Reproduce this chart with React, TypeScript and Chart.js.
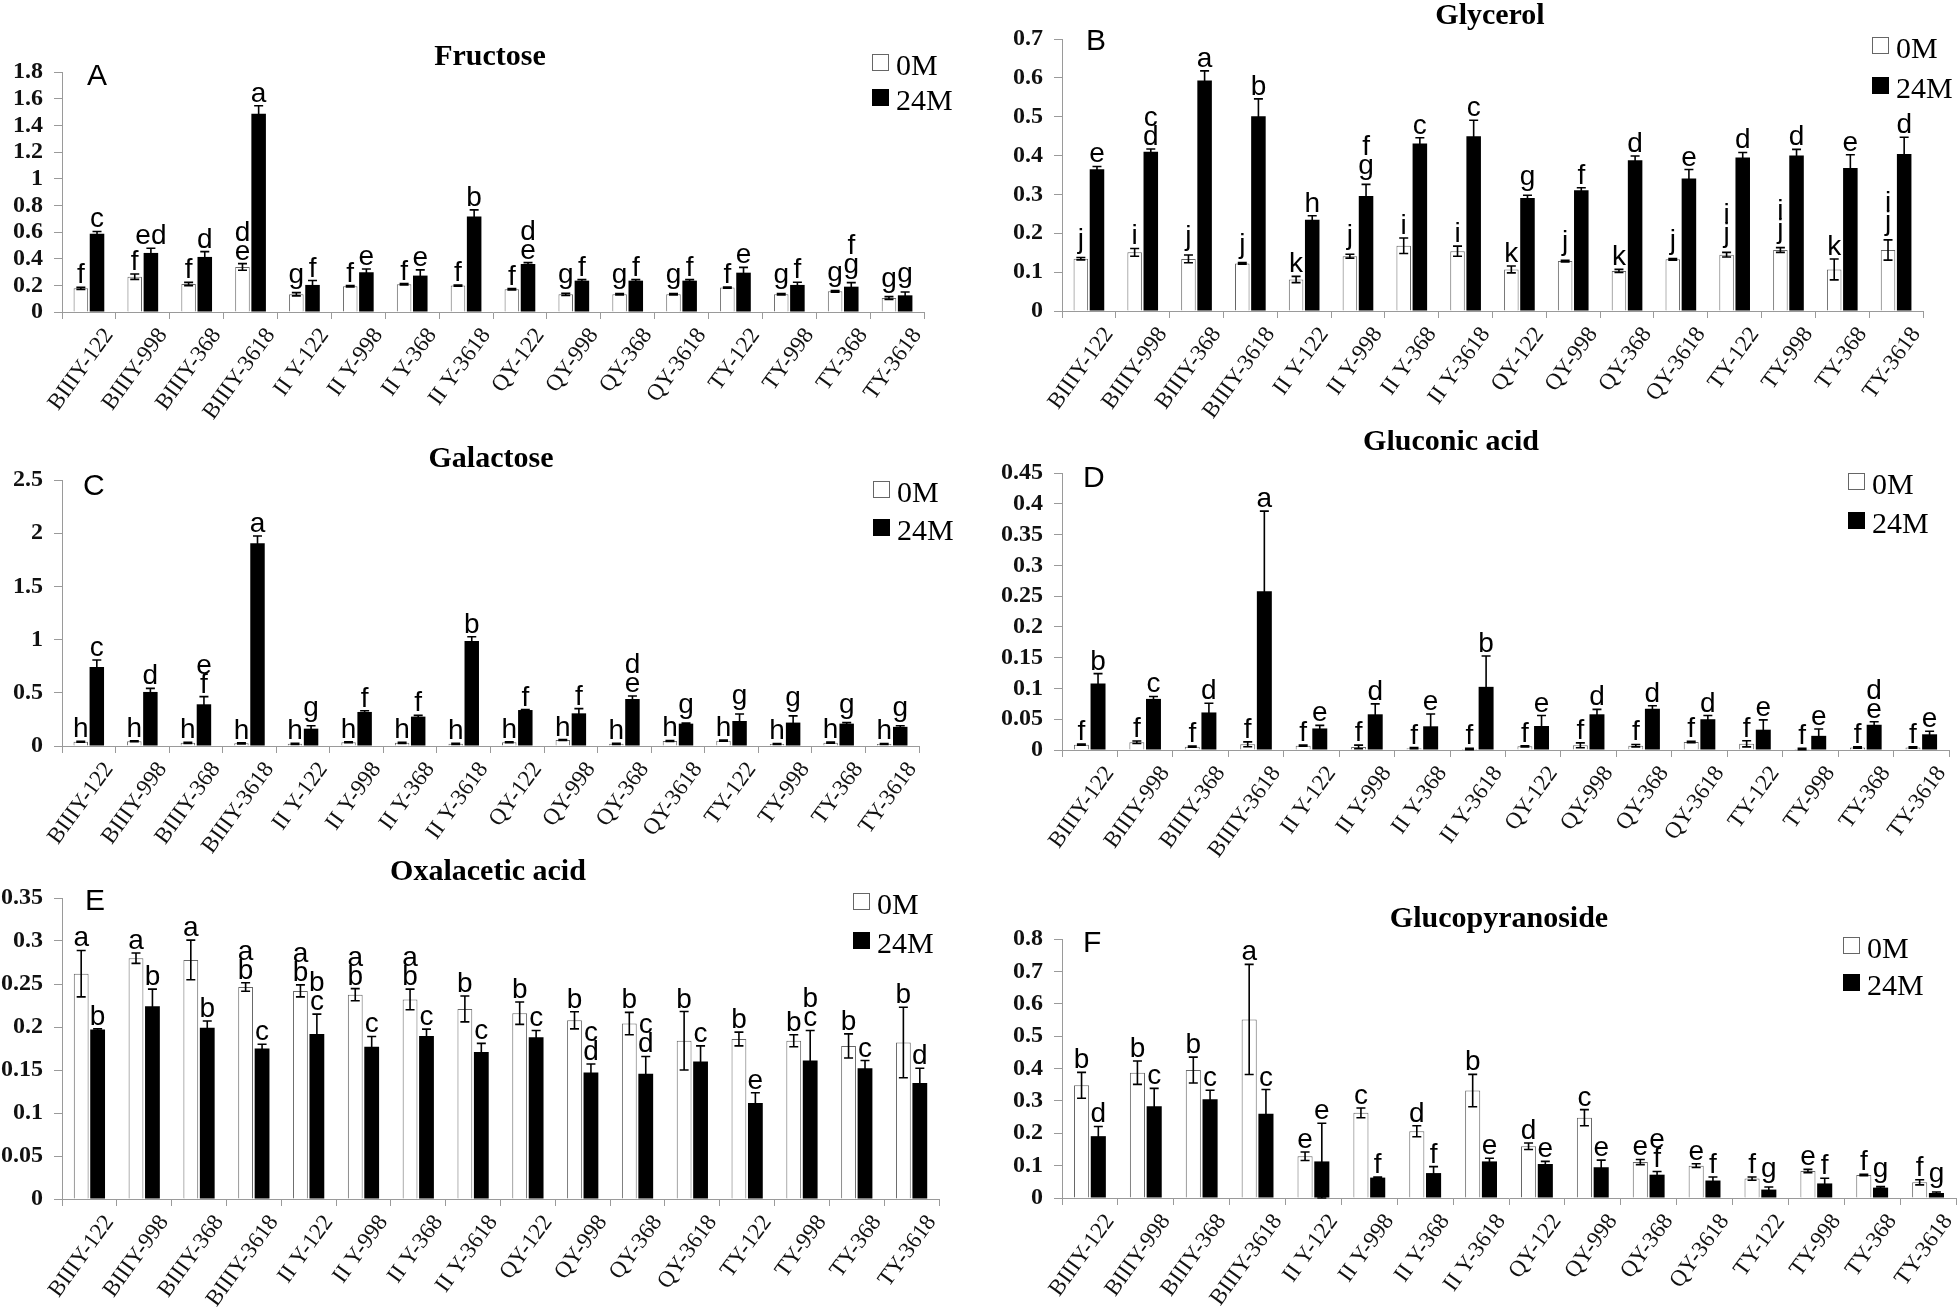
import React, { useEffect, useRef } from 'react';
import { Chart, registerables } from 'chart.js';

Chart.register(...registerables);

const categories = [
  'BIIIY-122', 'BIIIY-998', 'BIIIY-368', 'BIIIY-3618',
  'II Y-122', 'II Y-998', 'II Y-368', 'II Y-3618',
  'QY-122', 'QY-998', 'QY-368', 'QY-3618',
  'TY-122', 'TY-998', 'TY-368', 'TY-3618',
];
const seriesNames = ['0M', '24M'];

// A: Fructose
const fructose0M = [0.178, 0.265, 0.21, 0.338, 0.133, 0.193, 0.208, 0.198, 0.17, 0.133, 0.133, 0.133, 0.183, 0.133, 0.155, 0.105];
const fructose0MErr = [0.008, 0.02, 0.012, 0.025, 0.012, 0.005, 0.005, 0.005, 0.005, 0.008, 0.006, 0.006, 0.005, 0.006, 0.006, 0.01];
const fructose24M = [0.586, 0.443, 0.413, 1.487, 0.203, 0.298, 0.273, 0.716, 0.36, 0.235, 0.235, 0.235, 0.295, 0.203, 0.19, 0.125];
const fructose24MErr = [0.018, 0.035, 0.04, 0.06, 0.033, 0.025, 0.043, 0.05, 0.01, 0.008, 0.008, 0.008, 0.04, 0.02, 0.03, 0.025];
const fructoseLetters0M = ['f', 'f', 'f', 'd/e', 'g', 'f', 'f', 'f', 'f', 'g', 'g', 'g', 'f', 'g', 'g', 'g'];
const fructoseLetters24M = ['c', 'ed', 'd', 'a', 'f', 'e', 'e', 'b', 'd/e', 'f', 'f', 'f', 'e', 'f', 'f/g', 'g'];

// B: Glycerol
const glycerol0M = [0.1345, 0.151, 0.134, 0.1225, 0.081, 0.141, 0.168, 0.154, 0.107, 0.1285, 0.103, 0.133, 0.145, 0.157, 0.107, 0.157];
const glycerol0MErr = [0.003, 0.01, 0.01, 0.002, 0.008, 0.005, 0.02, 0.013, 0.009, 0.002, 0.004, 0.002, 0.006, 0.006, 0.027, 0.026];
const glycerol24M = [0.365, 0.41, 0.593, 0.501, 0.235, 0.296, 0.431, 0.45, 0.291, 0.311, 0.388, 0.341, 0.395, 0.4, 0.368, 0.404];
const glycerol24MErr = [0.007, 0.007, 0.025, 0.045, 0.01, 0.03, 0.015, 0.041, 0.007, 0.006, 0.011, 0.023, 0.013, 0.016, 0.034, 0.043];
const glycerolLetters0M = ['j', 'i', 'j', 'j', 'k', 'j', 'i', 'i', 'k', 'j', 'k', 'j', 'i/j', 'i/j', 'k', 'i/j'];
const glycerolLetters24M = ['e', 'c/d', 'a', 'b', 'h', 'f/g', 'c', 'c', 'g', 'f', 'd', 'e', 'd', 'd', 'e', 'd'];

// C: Galactose
const galactose0M = [0.04, 0.045, 0.03, 0.025, 0.02, 0.035, 0.03, 0.02, 0.035, 0.056, 0.02, 0.047, 0.05, 0.019, 0.031, 0.019];
const galactose0MErr = [0.005, 0.005, 0.005, 0.005, 0.005, 0.005, 0.005, 0.005, 0.005, 0.005, 0.005, 0.005, 0.005, 0.005, 0.005, 0.005];
const galactose24M = [0.742, 0.508, 0.392, 1.905, 0.163, 0.32, 0.276, 0.987, 0.338, 0.307, 0.442, 0.21, 0.235, 0.22, 0.21, 0.18];
const galactose24MErr = [0.066, 0.034, 0.072, 0.069, 0.028, 0.012, 0.012, 0.04, 0.005, 0.044, 0.028, 0.005, 0.066, 0.063, 0.01, 0.01];
const galactoseLetters0M = ['h', 'h', 'h', 'h', 'h', 'h', 'h', 'h', 'h', 'h', 'h', 'h', 'h', 'h', 'h', 'h'];
const galactoseLetters24M = ['c', 'd', 'e/f', 'a', 'g', 'f', 'f', 'b', 'f', 'f', 'd/e', 'g', 'g', 'g', 'g', 'g'];

// D: Gluconic acid
const gluconic0M = [0.0087, 0.0125, 0.0054, 0.0092, 0.007, 0.005, 0.003, 0.0016, 0.006, 0.0076, 0.007, 0.013, 0.01, 0.0016, 0.004, 0.004];
const gluconic0MErr = [0.001, 0.002, 0.001, 0.004, 0.001, 0.003, 0.001, 0.001, 0.001, 0.004, 0.002, 0.001, 0.005, 0.001, 0.001, 0.001];
const gluconic24M = [0.108, 0.083, 0.061, 0.258, 0.035, 0.058, 0.0385, 0.1026, 0.039, 0.058, 0.067, 0.05, 0.033, 0.023, 0.041, 0.0255];
const gluconic24MErr = [0.016, 0.004, 0.015, 0.13, 0.005, 0.017, 0.02, 0.05, 0.017, 0.008, 0.005, 0.006, 0.016, 0.011, 0.005, 0.005];
const gluconicLetters0M = ['f', 'f', 'f', 'f', 'f', 'f', 'f', 'f', 'f', 'f', 'f', 'f', 'f', 'f', 'f', 'f'];
const gluconicLetters24M = ['b', 'c', 'd', 'a', 'e', 'd', 'e', 'b', 'e', 'd', 'd', 'd', 'e', 'e', 'd/e', 'e'];

// E: Oxalacetic acid
const oxalacetic0M = [0.262, 0.28, 0.278, 0.2465, 0.242, 0.2376, 0.232, 0.221, 0.216, 0.2078, 0.204, 0.184, 0.186, 0.184, 0.178, 0.182];
const oxalacetic0MErr = [0.027, 0.006, 0.023, 0.005, 0.007, 0.007, 0.012, 0.015, 0.013, 0.01, 0.013, 0.034, 0.008, 0.007, 0.014, 0.041];
const oxalacetic24M = [0.197, 0.224, 0.199, 0.175, 0.192, 0.177, 0.1895, 0.171, 0.188, 0.147, 0.1457, 0.16, 0.1116, 0.161, 0.152, 0.135];
const oxalacetic24MErr = [0.001, 0.02, 0.008, 0.005, 0.023, 0.012, 0.008, 0.01, 0.008, 0.01, 0.02, 0.018, 0.012, 0.035, 0.009, 0.017];
const oxalaceticLetters0M = ['a', 'a', 'a', 'a/b', 'a/b', 'a/b', 'a/b', 'b', 'b', 'b', 'b', 'b', 'b', 'b', 'b', 'b'];
const oxalaceticLetters24M = ['b', 'b', 'b', 'c', 'b/c', 'c', 'c', 'c', 'c', 'c/d', 'c/d', 'c', 'e', 'b/c', 'c', 'd'];

// F: Glucopyranoside
const glucopyranoside0M = [0.348, 0.387, 0.395, 0.5515, 0.129, 0.263, 0.206, 0.332, 0.16, 0.248, 0.111, 0.1, 0.06, 0.0835, 0.071, 0.0485];
const glucopyranoside0MErr = [0.04, 0.036, 0.04, 0.17, 0.013, 0.015, 0.017, 0.05, 0.01, 0.025, 0.008, 0.006, 0.005, 0.005, 0.002, 0.008];
const glucopyranoside24M = [0.191, 0.2835, 0.305, 0.26, 0.113, 0.063, 0.077, 0.113, 0.105, 0.095, 0.072, 0.054, 0.026, 0.045, 0.032, 0.0155];
const glucopyranoside24MErr = [0.03, 0.055, 0.028, 0.075, 0.118, 0.002, 0.02, 0.01, 0.008, 0.022, 0.01, 0.011, 0.008, 0.016, 0.003, 0.003];
const glucopyranosideLetters0M = ['b', 'b', 'b', 'a', 'e', 'c', 'd', 'b', 'd', 'c', 'e', 'e', 'f', 'e', 'f', 'f'];
const glucopyranosideLetters24M = ['d', 'c', 'c', 'c', 'e', 'f', 'f', 'e', 'e', 'e', 'e/f', 'f', 'g', 'f', 'g', 'g'];

type Panel = {
  box: [number, number, number, number];
  area: [number, number, number, number];
  title: string; titlePos: [number, number];
  letter: string; letterPos: [number, number];
  legendPos: [number, number]; legendDy: number;
  yMax: number; yStep: number;
  v0: number[]; e0: number[]; v1: number[]; e1: number[];
  l0: string[]; l1: string[];
};

const panels: Panel[] = [
  {
    box: [0, 0, 980, 440], area: [62, 72, 924, 312],
    title: 'Fructose', titlePos: [490, 65], letter: 'A', letterPos: [87, 85],
    legendPos: [872, 54], legendDy: 35, yMax: 1.8, yStep: 0.2,
    v0: fructose0M, e0: fructose0MErr, v1: fructose24M, e1: fructose24MErr,
    l0: fructoseLetters0M, l1: fructoseLetters24M,
  },
  {
    box: [980, 0, 980, 440], area: [1062, 39, 1923, 311],
    title: 'Glycerol', titlePos: [1490, 24], letter: 'B', letterPos: [1086, 50],
    legendPos: [1872, 37], legendDy: 40, yMax: 0.7, yStep: 0.1,
    v0: glycerol0M, e0: glycerol0MErr, v1: glycerol24M, e1: glycerol24MErr,
    l0: glycerolLetters0M, l1: glycerolLetters24M,
  },
  {
    box: [0, 430, 980, 445], area: [62, 480, 919, 746],
    title: 'Galactose', titlePos: [491, 467], letter: 'C', letterPos: [83, 495],
    legendPos: [873, 481], legendDy: 38, yMax: 2.5, yStep: 0.5,
    v0: galactose0M, e0: galactose0MErr, v1: galactose24M, e1: galactose24MErr,
    l0: galactoseLetters0M, l1: galactoseLetters24M,
  },
  {
    box: [980, 430, 980, 445], area: [1062, 473, 1949, 750],
    title: 'Gluconic acid', titlePos: [1451, 450], letter: 'D', letterPos: [1083, 487],
    legendPos: [1848, 473], legendDy: 39, yMax: 0.45, yStep: 0.05,
    v0: gluconic0M, e0: gluconic0MErr, v1: gluconic24M, e1: gluconic24MErr,
    l0: gluconicLetters0M, l1: gluconicLetters24M,
  },
  {
    box: [0, 850, 980, 475], area: [62, 898, 939, 1199],
    title: 'Oxalacetic acid', titlePos: [488, 880], letter: 'E', letterPos: [85, 910],
    legendPos: [853, 893], legendDy: 39, yMax: 0.35, yStep: 0.05,
    v0: oxalacetic0M, e0: oxalacetic0MErr, v1: oxalacetic24M, e1: oxalacetic24MErr,
    l0: oxalaceticLetters0M, l1: oxalaceticLetters24M,
  },
  {
    box: [980, 850, 980, 475], area: [1062, 939, 1956, 1198],
    title: 'Glucopyranoside', titlePos: [1499, 927], letter: 'F', letterPos: [1083, 952],
    legendPos: [1843, 937], legendDy: 37, yMax: 0.8, yStep: 0.1,
    v0: glucopyranoside0M, e0: glucopyranoside0MErr, v1: glucopyranoside24M, e1: glucopyranoside24MErr,
    l0: glucopyranosideLetters0M, l1: glucopyranosideLetters24M,
  },
];

const X_AXIS_H = 125;
const SERIF = '"Liberation Serif", "Times New Roman", serif';
const SANS = '"Liberation Sans", Arial, sans-serif';

const annotPlugin = {
  id: 'annot',
  afterDatasetsDraw(chart: any, _args: any, opts: any) {
    const ctx = chart.ctx;
    const yScale = chart.scales.y;
    for (let di = 0; di < chart.data.datasets.length; di++) {
      const meta = chart.getDatasetMeta(di);
      const vals = chart.data.datasets[di].data as number[];
      const errs = opts.errors[di] as number[];
      const lets = opts.letters[di] as string[];
      meta.data.forEach((bar: any, i: number) => {
        const v = vals[i];
        const e = errs[i];
        const x = bar.x;
        const yTop = yScale.getPixelForValue(v + e);
        const yBot = yScale.getPixelForValue(Math.max(v - e, 0));
        ctx.save();
        ctx.strokeStyle = '#000';
        ctx.lineWidth = 1.6;
        ctx.beginPath();
        ctx.moveTo(x, yTop); ctx.lineTo(x, yBot);
        ctx.moveTo(x - 4.5, yTop); ctx.lineTo(x + 4.5, yTop);
        ctx.moveTo(x - 4.5, yBot); ctx.lineTo(x + 4.5, yBot);
        ctx.stroke();
        const lines = String(lets[i]).split('/');
        ctx.font = `28px ${SANS}`;
        ctx.fillStyle = '#000';
        ctx.textAlign = 'center';
        ctx.textBaseline = 'alphabetic';
        let base = yTop - 4;
        const last = lines[lines.length - 1];
        if (/[gjpqy]/.test(last)) base -= 6;
        for (let k = lines.length - 1; k >= 0; k--) {
          ctx.fillText(lines[k], x, base);
          base -= 19;
        }
        ctx.restore();
      });
    }
  },
};

const panelTextPlugin = {
  id: 'panelText',
  afterDraw(chart: any, _args: any, o: any) {
    const ctx = chart.ctx;
    ctx.save();
    ctx.fillStyle = '#000';
    ctx.textBaseline = 'alphabetic';
    ctx.font = `bold 30px ${SERIF}`;
    ctx.textAlign = 'center';
    ctx.fillText(o.title, o.titleX, o.titleY);
    ctx.font = `30px ${SANS}`;
    ctx.textAlign = 'left';
    ctx.fillText(o.letter, o.letterX, o.letterY);
    chart.data.datasets.forEach((ds: any, i: number) => {
      const bx = o.legendX;
      const by = o.legendY + i * o.legendDy;
      ctx.fillStyle = ds.backgroundColor;
      ctx.fillRect(bx, by, 17, 17);
      ctx.strokeStyle = ds.borderColor;
      ctx.lineWidth = 1;
      ctx.strokeRect(bx + 0.5, by + 0.5, 16, 16);
      ctx.fillStyle = '#000';
      ctx.font = `30px ${SERIF}`;
      ctx.textAlign = 'left';
      ctx.fillText(ds.label, bx + 24, by + 21);
    });
    ctx.restore();
  },
};

function fmt(v: number) {
  return String(Number(Number(v).toFixed(4)));
}

function PanelChart({ p }: { p: Panel }) {
  const ref = useRef<HTMLCanvasElement | null>(null);
  useEffect(() => {
    if (!ref.current) return;
    const [cl, ct, cw, ch] = p.box;
    const [al, at, ar, ab] = p.area;
    const chart = new Chart(ref.current, {
      type: 'bar',
      data: {
        labels: categories,
        datasets: [
          {
            label: seriesNames[0], data: p.v0, backgroundColor: '#ffffff', borderColor: '#666666',
            borderWidth: 1, categoryPercentage: 0.6, barPercentage: 0.9,
          },
          {
            label: seriesNames[1], data: p.v1, backgroundColor: '#000000', borderColor: '#000000',
            borderWidth: 0, categoryPercentage: 0.6, barPercentage: 0.9,
          },
        ],
      },
      options: {
        responsive: false,
        animation: false,
        layout: {
          padding: { left: 0, top: at - ct, right: cl + cw - ar, bottom: Math.max(ct + ch - ab - X_AXIS_H, 0) },
        },
        plugins: {
          legend: { display: false },
          tooltip: { enabled: false },
          annot: { errors: [p.e0, p.e1], letters: [p.l0, p.l1] },
          panelText: {
            title: p.title, titleX: p.titlePos[0] - cl, titleY: p.titlePos[1] - ct,
            letter: p.letter, letterX: p.letterPos[0] - cl, letterY: p.letterPos[1] - ct,
            legendX: p.legendPos[0] - cl, legendY: p.legendPos[1] - ct, legendDy: p.legendDy,
          },
        } as any,
        scales: {
          x: {
            afterFit: (s: any) => { s.height = X_AXIS_H; },
            grid: { display: true, drawOnChartArea: false, drawTicks: true, tickLength: 7, color: '#9a9a9a', offset: true },
            border: { display: true, color: '#9a9a9a', width: 1 },
            ticks: {
              autoSkip: false, minRotation: 54, maxRotation: 54, padding: 4, labelOffset: 20,
              color: '#111', font: { family: SERIF, size: 23 },
            },
          },
          y: {
            min: 0, max: p.yMax,
            afterFit: (s: any) => { s.width = al - cl; },
            grid: { display: true, drawOnChartArea: false, drawTicks: true, tickLength: 8, color: '#9a9a9a' },
            border: { display: true, color: '#9a9a9a', width: 1 },
            ticks: {
              stepSize: p.yStep, autoSkip: false, maxTicksLimit: 40, padding: 11, color: '#111',
              font: { family: SERIF, size: 24, weight: 'bold' },
              callback: (v: any) => fmt(v),
            },
          },
        },
      },
      plugins: [annotPlugin, panelTextPlugin],
    } as any);
    return () => chart.destroy();
  }, [p]);
  const [cl, ct, cw, ch] = p.box;
  return (
    <canvas
      ref={ref}
      width={cw}
      height={ch}
      style={{ position: 'absolute', left: cl, top: ct, width: cw, height: ch }}
    />
  );
}

export default function App() {
  return (
    <div style={{ position: 'absolute', left: 0, top: 0, width: 1960, height: 1310, background: '#fff', overflow: 'hidden' }}>
      {panels.map((p, i) => <PanelChart key={i} p={p} />)}
    </div>
  );
}
